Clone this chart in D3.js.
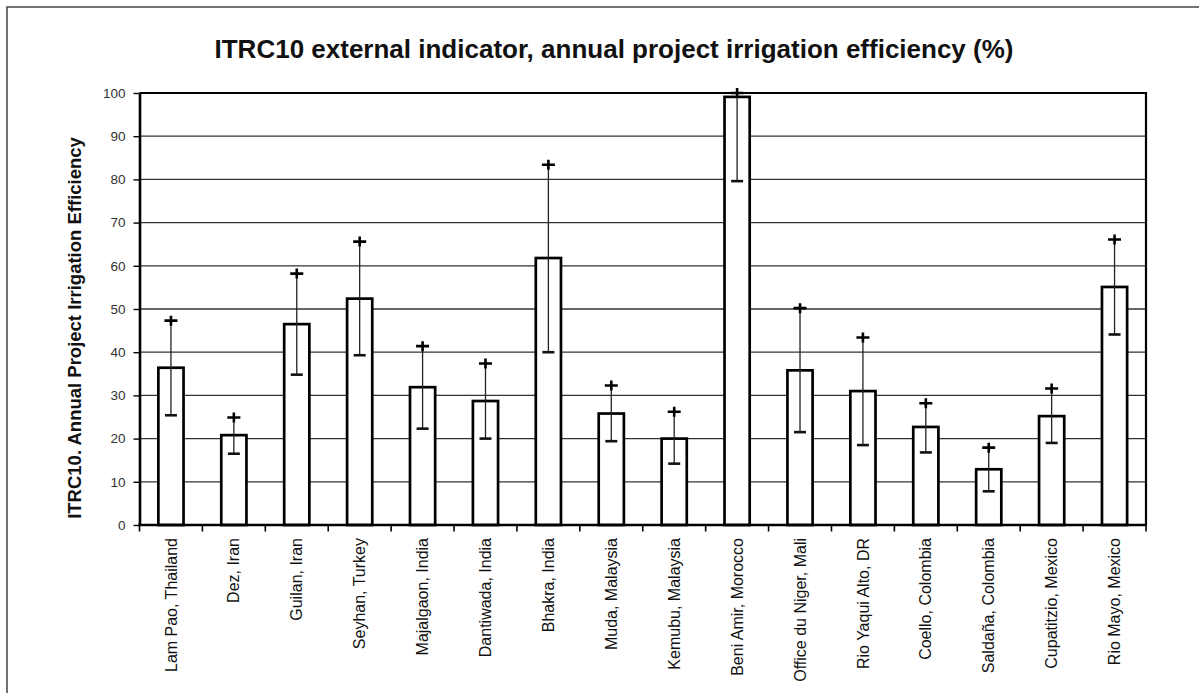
<!DOCTYPE html>
<html>
<head>
<meta charset="utf-8">
<script src="https://cdn.jsdelivr.net/npm/d3@7"></script>
<style>
  html, body { margin: 0; padding: 0; background: #fff; }
  svg { display: block; font-family: "Liberation Sans", Arial, Helvetica, sans-serif; }
</style>
</head>
<body>
<svg id="chart" width="1199" height="693"></svg>
<script>
// Irrigation projects and their annual project irrigation efficiency (%)
const categories = [
  "Lam Pao, Thailand", "Dez, Iran", "Guilan, Iran", "Seyhan, Turkey",
  "Majalgaon, India", "Dantiwada, India", "Bhakra, India", "Muda, Malaysia",
  "Kemubu, Malaysia", "Beni Amir, Morocco", "Office du Niger, Mali",
  "Rio Yaqui Alto, DR", "Coello, Colombia", "Saldaña, Colombia",
  "Cupatitzio, Mexico", "Rio Mayo, Mexico"
];
const efficiency = [36.4, 20.8, 46.5, 52.4, 31.9, 28.7, 61.8, 25.8, 20.0, 99.1, 35.8, 31.0, 22.7, 12.9, 25.2, 55.1];
const highValues = [47.3, 24.9, 58.2, 65.6, 41.4, 37.4, 83.4, 32.3, 26.2, 100.0, 50.2, 43.4, 28.2, 17.9, 31.6, 66.1];
const lowValues  = [25.4, 16.5, 34.8, 39.3, 22.3, 20.0, 40.0, 19.4, 14.2, 79.6, 21.5, 18.5, 16.8, 7.8, 19.0, 44.1];
const yTicks = [0, 10, 20, 30, 40, 50, 60, 70, 80, 90, 100];

const titleText = "ITRC10 external indicator, annual project irrigation efficiency (%)";
const yTitleText = "ITRC10. Annual Project Irrigation Efficiency";

const rows = categories.map((c, i) => ({
  name: c, value: efficiency[i], high: highValues[i], low: lowValues[i]
}));

const svg = d3.select("#chart");
const plot = { left: 139.5, right: 1146, top: 93, bottom: 525 };

const y = d3.scaleLinear().domain([0, 100]).range([plot.bottom, plot.top]);
// category slots (tick marks sit on slot boundaries)
const xSlot = d3.scaleBand().domain(categories).range([plot.left, plot.right]).padding(0);
// bars occupy the middle 40% of each slot
const xBar = d3.scaleBand().domain(categories).range([plot.left, plot.right])
  .paddingInner(0.6).paddingOuter(0.3);

// page frame
svg.append("path")
  .attr("d", "M7,693 L7,7 L1199,7")
  .attr("fill", "none").attr("stroke", "#444").attr("stroke-width", 1.5);

// title
svg.append("text")
  .attr("x", 614).attr("y", 58)
  .attr("text-anchor", "middle")
  .attr("font-size", 26).attr("font-weight", "bold").attr("fill", "#111")
  .text(titleText);

// horizontal gridlines
svg.append("g").selectAll("line")
  .data(yTicks.filter(t => t > 0 && t < 100))
  .join("line")
  .attr("x1", plot.left).attr("x2", plot.right)
  .attr("y1", d => y(d)).attr("y2", d => y(d))
  .attr("stroke", "#333").attr("stroke-width", 1.3);

// bars
svg.append("g").selectAll("rect")
  .data(rows)
  .join("rect")
  .attr("x", d => xBar(d.name))
  .attr("width", xBar.bandwidth())
  .attr("y", d => y(d.value))
  .attr("height", d => y(0) - y(d.value))
  .attr("fill", "#fff").attr("stroke", "#000").attr("stroke-width", 2.7);

// high/low range lines with markers
const err = svg.append("g");
const cx = d => xBar(d.name) + xBar.bandwidth() / 2;
err.selectAll("line.range")
  .data(rows).join("line").attr("class", "range")
  .attr("x1", cx).attr("x2", cx)
  .attr("y1", d => y(d.low)).attr("y2", d => y(d.high))
  .attr("stroke", "#222").attr("stroke-width", 1.3);
// high marker: plus sign
err.selectAll("path.high")
  .data(rows).join("path").attr("class", "high")
  .attr("d", d => {
    const x0 = cx(d), y0 = y(d.high);
    return `M${x0 - 6.5},${y0} H${x0 + 6.5} M${x0},${y0 - 5} V${y0 + 5}`;
  })
  .attr("stroke", "#000").attr("stroke-width", 2.6).attr("fill", "none");
// low marker: dash
err.selectAll("line.low")
  .data(rows).join("line").attr("class", "low")
  .attr("x1", d => cx(d) - 6).attr("x2", d => cx(d) + 6)
  .attr("y1", d => y(d.low)).attr("y2", d => y(d.low))
  .attr("stroke", "#111").attr("stroke-width", 2.6);

// plot border: top and right
svg.append("path")
  .attr("d", `M${plot.left},${plot.top} H${plot.right} V${plot.bottom}`)
  .attr("fill", "none").attr("stroke", "#000").attr("stroke-width", 2.2);

// y axis
const yAxis = svg.append("g")
  .attr("transform", `translate(${plot.left},0)`)
  .call(d3.axisLeft(y).tickValues(yTicks).tickSize(6).tickPadding(8).tickSizeOuter(0));
yAxis.select(".domain").attr("stroke", "#000").attr("stroke-width", 2.6);
yAxis.selectAll(".tick line").attr("stroke", "#000").attr("stroke-width", 1.4);
yAxis.selectAll(".tick text")
  .attr("font-size", 13.5).attr("fill", "#333")
  .attr("font-family", "'Liberation Sans', Arial, sans-serif");

// x axis line and slot-boundary ticks
const xg = svg.append("g");
xg.append("line")
  .attr("x1", plot.left - 1.3).attr("x2", plot.right + 1)
  .attr("y1", plot.bottom).attr("y2", plot.bottom)
  .attr("stroke", "#000").attr("stroke-width", 2.6);
xg.selectAll("line.tick")
  .data(categories.concat([null])).join("line").attr("class", "tick")
  .attr("x1", d => d === null ? plot.right : xSlot(d))
  .attr("x2", d => d === null ? plot.right : xSlot(d))
  .attr("y1", plot.bottom).attr("y2", plot.bottom + 6.5)
  .attr("stroke", "#000").attr("stroke-width", 1.6);

// rotated category labels
xg.selectAll("text")
  .data(categories).join("text")
  .attr("transform", d => `translate(${xSlot(d) + xSlot.bandwidth() / 2},${plot.bottom + 13}) rotate(-90)`)
  .attr("text-anchor", "end")
  .attr("dy", "0.35em")
  .attr("font-size", 16).attr("fill", "#111")
  .text(d => d);

// y axis title
svg.append("text")
  .attr("transform", `translate(75,328) rotate(-90)`)
  .attr("text-anchor", "middle").attr("dy", "0.35em")
  .attr("font-size", 18.5).attr("font-weight", "bold").attr("fill", "#111")
  .text(yTitleText);
</script>
</body>
</html>
